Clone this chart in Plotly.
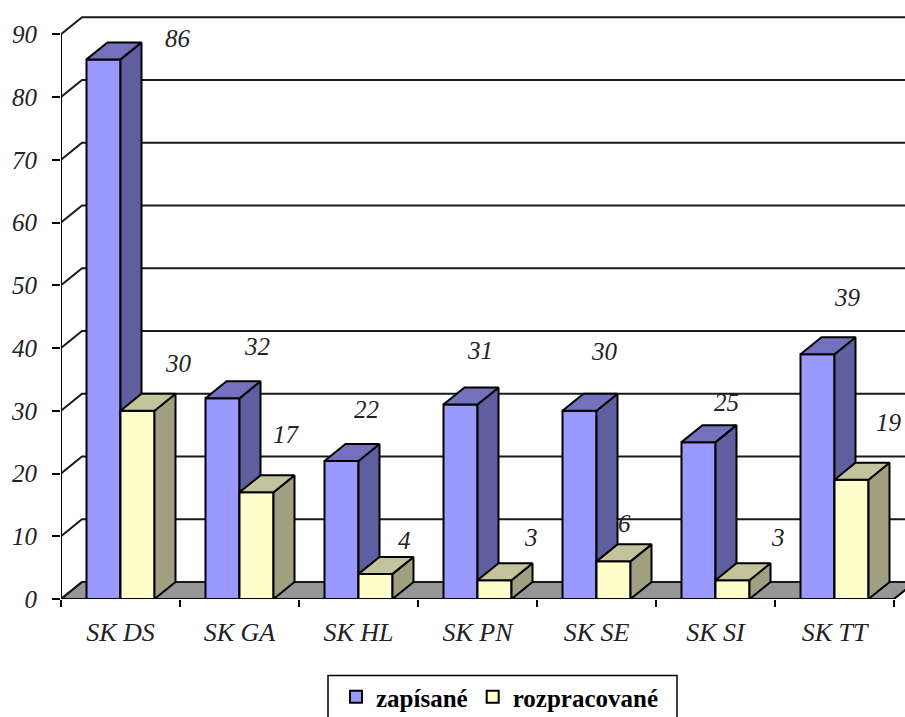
import plotly.graph_objects as go

categories = ["SK DS", "SK GA", "SK HL", "SK PN", "SK SE", "SK SI", "SK TT"]
zapisane = [86, 32, 22, 31, 30, 25, 39]
rozpracovane = [30, 17, 4, 3, 6, 3, 19]
y_ticks = list(range(0, 100, 10))

# label offsets from the bar-top (pixels), as hand-placed in the original
zap_dx = [75, 35, 26, 20, 26, 29, 31]
zap_dy = [21, 52, 51, 54, 59, 40, 57]
roz_dx = [42, 31, 30, 37, 12, 46, 38]
roz_dy = [47, 58, 33, 43, 38, 43, 57]

W, H = 905, 717
L, T, B = 61, 16, 117.5
PX_X = 119.0          # px per category
PX_Y = 6.28           # px per value unit
DX = 21 / PX_X        # depth in x units
DY = 17 / PX_Y        # depth in y units
BW = 34 / PX_X        # bar width in x units
XMAX = (W - L) / PX_X
YMAX = (H - B - T) / PX_Y

SERIF = "Liberation Serif"
fig = go.Figure()


def poly(xs, ys, fill, z, line="black"):
    fig.add_trace(go.Scatter(
        x=xs, y=ys, mode="lines", fill="toself", fillcolor=fill,
        line=dict(color=line, width=2), showlegend=False, hoverinfo="skip",
        zorder=z, cliponaxis=True))


# floor
poly([0, DX, 7 + DX, 7, 0], [0, DY, DY, 0, 0], "#969696", 0)

# back wall grid + left wall diagonals
gx, gy = [], []
for v in y_ticks:
    gx += [0, DX, 7 + DX, None]
    gy += [v, v + DY, v + DY, None]
fig.add_trace(go.Scatter(x=gx, y=gy, mode="lines", line=dict(color="#1a1a1a", width=2),
                         showlegend=False, hoverinfo="skip", zorder=0, cliponaxis=False))

# front bars
fig.add_trace(go.Bar(x=[i + 0.5 for i in range(7)], y=zapisane, width=BW, offset=-BW,
                     name="zapísané", marker=dict(color="#9999FF", line=dict(color="black", width=2)),
                     zorder=1))
fig.add_trace(go.Bar(x=[i + 0.5 for i in range(7)], y=rozpracovane, width=BW, offset=0,
                     name="rozpracované", marker=dict(color="#FFFFCC", line=dict(color="black", width=2)),
                     zorder=2))

# side + top faces
for i in range(7):
    c = i + 0.5
    a, b = c - BW, c
    v = zapisane[i]
    poly([b, b + DX, b + DX, b, b], [0, DY, v + DY, v, 0], "#5F5F9F", 1)
    poly([a, b, b + DX, a + DX, a], [v, v, v + DY, v + DY, v], "#7373BD", 1)
    a, b = c, c + BW
    v = rozpracovane[i]
    poly([b, b + DX, b + DX, b, b], [0, DY, v + DY, v, 0], "#A0A080", 2)
    poly([a, b, b + DX, a + DX, a], [v, v, v + DY, v + DY, v], "#C4C49C", 2)

# axis lines
fig.add_trace(go.Scatter(x=[0, 7], y=[0, 0], mode="lines", line=dict(color="black", width=2),
                         showlegend=False, hoverinfo="skip", zorder=3, cliponaxis=False))
fig.add_trace(go.Scatter(x=[0, 0], y=[0, 90], mode="lines", line=dict(color="black", width=2),
                         showlegend=False, hoverinfo="skip", zorder=3, cliponaxis=False))

# data labels
annots = []
for i in range(7):
    for vals, dxs, dys, sign in ((zapisane, zap_dx, zap_dy, -1), (rozpracovane, roz_dx, roz_dy, 1)):
        annots.append(dict(
            x=i + 0.5 + sign * BW / 2, y=vals[i], text=str(vals[i]), showarrow=False,
            xshift=dxs[i] - 1, yshift=dys[i], xanchor="center", yanchor="middle",
            font=dict(family=SERIF, size=25, color="#222222", style="italic")))

fig.update_layout(
    width=W, height=H, autosize=False,
    margin=dict(l=L, r=0, t=T, b=B, pad=0),
    paper_bgcolor="white", plot_bgcolor="white",
    barmode="overlay",
    annotations=annots,
    xaxis=dict(
        range=[0, XMAX], type="linear", showgrid=False, zeroline=False, showline=False,
        tickmode="array", tickvals=[i + 0.5 for i in range(7)], ticktext=categories,
        ticks="", ticklabelstandoff=15,
        tickfont=dict(family=SERIF, size=26, color="#222222", style="italic"),
        minor=dict(tickmode="array", tickvals=list(range(8)), ticks="outside", ticklen=7,
                   tickwidth=1.5, tickcolor="black", showgrid=False),
    ),
    yaxis=dict(
        range=[0, YMAX], showgrid=False, zeroline=False, showline=False,
        tickmode="array", tickvals=y_ticks, ticks="outside", ticklen=8, tickwidth=1.5,
        tickcolor="black", ticklabelstandoff=10,
        tickfont=dict(family=SERIF, size=25, color="#222222", style="italic"),
    ),
    legend=dict(
        orientation="h", xref="container", yref="container",
        x=336 / W, y=1 - 674 / H, xanchor="left", yanchor="top",
        font=dict(family=SERIF, size=25, color="black", weight="bold"),
        bgcolor="rgba(0,0,0,0)",
    ),
    shapes=[dict(type="rect", xref="paper", yref="paper",
                 x0=(328 - L) / (W - L), x1=(677 - L) / (W - L),
                 y0=(H - B - 735) / (H - B - T), y1=(H - B - 676) / (H - B - T),
                 line=dict(color="black", width=1.5), layer="above")],
)

fig.write_html("out.html", config={"displayModeBar": False},
               post_script="document.body.style.margin='0';document.documentElement.style.overflow='hidden';")
